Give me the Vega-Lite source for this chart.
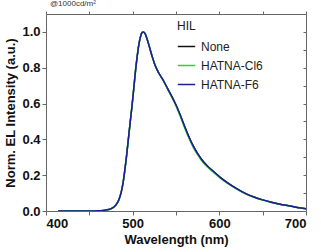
{
  "$schema": "https://vega.github.io/schema/vega-lite/v6.json",
  "autosize": "none",
  "width": 260,
  "height": 197,
  "padding": {"left": 46, "top": 14, "right": 15, "bottom": 41},
  "background": "white",
  "title": {"text": "@1000cd/m²", "anchor": "start", "frame": "group", "fontSize": 8, "fontWeight": "normal", "font": "Liberation Sans", "color": "#333", "offset": 3, "dx": 4},
  "config": {"view": {"stroke": null}, "font": "Liberation Sans"},
  "data": {"values": [
    {"wl": 414, "None": 0.0, "HATNA-Cl6": 0.0, "HATNA-F6": 0.0},
    {"wl": 430, "None": 0.0, "HATNA-Cl6": 0.0, "HATNA-F6": 0.0},
    {"wl": 450, "None": 0.0, "HATNA-Cl6": 0.0, "HATNA-F6": 0.0},
    {"wl": 460, "None": 0.001, "HATNA-Cl6": 0.001, "HATNA-F6": 0.001},
    {"wl": 466, "None": 0.003, "HATNA-Cl6": 0.003, "HATNA-F6": 0.003},
    {"wl": 472, "None": 0.008, "HATNA-Cl6": 0.008, "HATNA-F6": 0.008},
    {"wl": 476, "None": 0.015, "HATNA-Cl6": 0.015, "HATNA-F6": 0.015},
    {"wl": 480, "None": 0.03, "HATNA-Cl6": 0.03, "HATNA-F6": 0.03},
    {"wl": 484, "None": 0.062, "HATNA-Cl6": 0.062, "HATNA-F6": 0.062},
    {"wl": 487, "None": 0.11, "HATNA-Cl6": 0.11, "HATNA-F6": 0.11},
    {"wl": 489, "None": 0.16, "HATNA-Cl6": 0.16, "HATNA-F6": 0.16},
    {"wl": 491, "None": 0.23, "HATNA-Cl6": 0.23, "HATNA-F6": 0.23},
    {"wl": 493, "None": 0.31, "HATNA-Cl6": 0.31, "HATNA-F6": 0.31},
    {"wl": 495, "None": 0.4, "HATNA-Cl6": 0.4, "HATNA-F6": 0.4},
    {"wl": 497, "None": 0.49, "HATNA-Cl6": 0.49, "HATNA-F6": 0.49},
    {"wl": 499, "None": 0.575, "HATNA-Cl6": 0.575, "HATNA-F6": 0.575},
    {"wl": 501, "None": 0.67, "HATNA-Cl6": 0.67, "HATNA-F6": 0.67},
    {"wl": 503, "None": 0.77, "HATNA-Cl6": 0.77, "HATNA-F6": 0.77},
    {"wl": 505, "None": 0.855, "HATNA-Cl6": 0.855, "HATNA-F6": 0.855},
    {"wl": 507, "None": 0.925, "HATNA-Cl6": 0.925, "HATNA-F6": 0.925},
    {"wl": 509, "None": 0.972, "HATNA-Cl6": 0.972, "HATNA-F6": 0.972},
    {"wl": 511, "None": 0.997, "HATNA-Cl6": 0.997, "HATNA-F6": 0.997},
    {"wl": 512.5, "None": 1.0, "HATNA-Cl6": 1.0, "HATNA-F6": 1.0},
    {"wl": 514, "None": 0.993, "HATNA-Cl6": 0.993, "HATNA-F6": 0.993},
    {"wl": 517, "None": 0.955, "HATNA-Cl6": 0.955, "HATNA-F6": 0.955},
    {"wl": 520, "None": 0.905, "HATNA-Cl6": 0.905, "HATNA-F6": 0.905},
    {"wl": 523, "None": 0.855, "HATNA-Cl6": 0.855, "HATNA-F6": 0.855},
    {"wl": 526, "None": 0.812, "HATNA-Cl6": 0.812, "HATNA-F6": 0.812},
    {"wl": 530, "None": 0.772, "HATNA-Cl6": 0.772, "HATNA-F6": 0.772},
    {"wl": 534, "None": 0.74, "HATNA-Cl6": 0.739, "HATNA-F6": 0.74},
    {"wl": 538, "None": 0.705, "HATNA-Cl6": 0.703, "HATNA-F6": 0.705},
    {"wl": 542, "None": 0.668, "HATNA-Cl6": 0.665, "HATNA-F6": 0.668},
    {"wl": 546, "None": 0.632, "HATNA-Cl6": 0.628, "HATNA-F6": 0.632},
    {"wl": 550, "None": 0.592, "HATNA-Cl6": 0.587, "HATNA-F6": 0.592},
    {"wl": 555, "None": 0.535, "HATNA-Cl6": 0.528, "HATNA-F6": 0.535},
    {"wl": 560, "None": 0.472, "HATNA-Cl6": 0.464, "HATNA-F6": 0.472},
    {"wl": 565, "None": 0.413, "HATNA-Cl6": 0.405, "HATNA-F6": 0.413},
    {"wl": 570, "None": 0.362, "HATNA-Cl6": 0.354, "HATNA-F6": 0.362},
    {"wl": 575, "None": 0.32, "HATNA-Cl6": 0.313, "HATNA-F6": 0.32},
    {"wl": 580, "None": 0.285, "HATNA-Cl6": 0.278, "HATNA-F6": 0.285},
    {"wl": 586, "None": 0.253, "HATNA-Cl6": 0.247, "HATNA-F6": 0.253},
    {"wl": 592, "None": 0.226, "HATNA-Cl6": 0.221, "HATNA-F6": 0.226},
    {"wl": 601, "None": 0.188, "HATNA-Cl6": 0.184, "HATNA-F6": 0.188},
    {"wl": 610, "None": 0.156, "HATNA-Cl6": 0.153, "HATNA-F6": 0.156},
    {"wl": 620, "None": 0.125, "HATNA-Cl6": 0.122, "HATNA-F6": 0.125},
    {"wl": 630, "None": 0.098, "HATNA-Cl6": 0.096, "HATNA-F6": 0.098},
    {"wl": 640, "None": 0.078, "HATNA-Cl6": 0.077, "HATNA-F6": 0.078},
    {"wl": 650, "None": 0.062, "HATNA-Cl6": 0.061, "HATNA-F6": 0.062},
    {"wl": 660, "None": 0.049, "HATNA-Cl6": 0.048, "HATNA-F6": 0.049},
    {"wl": 670, "None": 0.038, "HATNA-Cl6": 0.038, "HATNA-F6": 0.038},
    {"wl": 680, "None": 0.029, "HATNA-Cl6": 0.029, "HATNA-F6": 0.029},
    {"wl": 690, "None": 0.02, "HATNA-Cl6": 0.02, "HATNA-F6": 0.02},
    {"wl": 700, "None": 0.013, "HATNA-Cl6": 0.013, "HATNA-F6": 0.013}
  ]},
  "transform": [{"fold": ["None", "HATNA-Cl6", "HATNA-F6"], "as": ["series", "v"]}],
  "resolve": {"axis": {"x": "independent", "y": "independent"}},
  "layer": [
    {
      "mark": {"type": "line", "strokeWidth": 1.5, "clip": true, "interpolate": "monotone"},
      "encoding": {
        "x": {"field": "wl", "type": "quantitative",
          "scale": {"domain": [400, 700], "nice": false, "zero": false},
          "axis": {"orient": "bottom", "values": [400, 450, 500, 550, 600, 650, 700],
            "labelExpr": "datum.value % 100 == 0 ? datum.label : ''",
            "title": "Wavelength (nm)", "grid": false, "domainColor": "#666", "tickColor": "#666",
            "tickSize": 4, "labelFontSize": 13, "labelFontWeight": "bold", "labelColor": "#111", "labelPadding": 2,
            "titleFontSize": 13, "titleFontWeight": "bold", "titleColor": "#111", "titlePadding": 3}},
        "y": {"field": "v", "type": "quantitative",
          "scale": {"domain": [0, 1.1], "nice": false},
          "axis": {"orient": "left", "values": [0, 0.2, 0.4, 0.6, 0.8, 1.0],
            "format": ".1f", "title": "Norm. EL Intensity (a.u.)", "grid": false, "domainColor": "#666", "tickColor": "#666",
            "tickSize": 4, "labelFontSize": 13, "labelFontWeight": "bold", "labelColor": "#111", "labelPadding": 2,
            "titleFontSize": 13, "titleFontWeight": "bold", "titleColor": "#111", "titlePadding": 4}},
        "color": {"field": "series", "type": "nominal",
          "scale": {"domain": ["None", "HATNA-Cl6", "HATNA-F6"], "range": ["#111111", "#2ed42e", "#1c1c9a"]},
          "legend": {"title": "HIL", "orient": "none", "legendX": 131, "legendY": 7,
            "symbolType": "stroke", "symbolSize": 300, "symbolStrokeWidth": 1.5,
            "titleFontSize": 12, "titleFontWeight": "normal", "titleColor": "#222",
            "labelFontSize": 12, "labelColor": "#222", "labelOffset": 5, "rowPadding": 3, "titlePadding": 4}}
      }
    },
    {
      "mark": {"type": "rule", "opacity": 0},
      "encoding": {
        "x": {"field": "wl", "type": "quantitative",
          "axis": {"orient": "top", "values": [400, 450, 500, 550, 600, 650, 700], "labels": false, "title": null,
            "grid": false, "domainColor": "#666", "tickColor": "#666", "tickSize": 3}},
        "y": {"field": "v", "type": "quantitative",
          "axis": {"orient": "right", "values": [0, 0.1, 0.2, 0.3, 0.4, 0.5, 0.6, 0.7, 0.8, 0.9, 1.0, 1.1], "labels": false, "title": null,
            "grid": false, "domainColor": "#666", "tickColor": "#666", "tickSize": -3}}
      }
    }
  ]
}
